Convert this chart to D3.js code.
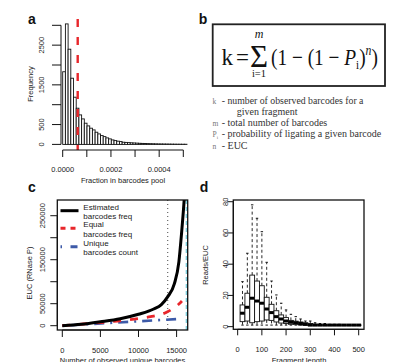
<!DOCTYPE html>
<html>
<head>
<meta charset="utf-8">
<script src="https://cdn.jsdelivr.net/npm/d3@7"></script>
<style>
  body { margin: 0; background: #fff; }
  svg { display: block; }
  text { font-family: "Liberation Sans", Arial, sans-serif; fill: #1a1a1a; }
</style>
</head>
<body>
<svg id="fig" width="419" height="362"></svg>
<script>
// ---- panel a: histogram of barcode fractions
const histBinWidth = 0.0000112
const histCounts = [1830, 3035, 2398, 1667, 1189, 912, 743, 642, 534, 466, 408, 365, 307, 264,
    222, 196, 164, 139, 113, 96, 81, 71, 55, 50, 45, 40, 36, 32, 28, 25, 22, 20, 18, 16, 14,
    12, 11, 10, 9, 8, 7, 6, 5, 5, 4, 4]
const equalFraction = 0.0000622
const histXTicks = [0, 0.0001, 0.0002, 0.0003, 0.0004, 0.0005]
const histXLabels = ["0.0000", "", "0.0002", "", "0.0004", ""]
const histYTicks = [0, 500, 1000, 1500, 2000, 2500, 3000]
const histYLabels = ["0", "500", "", "1500", "", "2500", ""]

// ---- panel c: EUC vs observed unique barcodes
const estObserved = [0, 2500, 5000, 7600, 10000, 12000, 13000, 13800, 14700, 15300, 15650, 15950, 16030]
const estEuc = [0, 3300, 9000, 16000, 26000, 38000, 48000, 65000, 95000, 145000, 210000, 275000, 295000]
const equalObserved = [0, 2780, 5000, 7240, 9475, 11575, 13680, 15450, 15700]
const equalEuc = [0, 3900, 7000, 10700, 15200, 20500, 30500, 51600, 56000]
const uniqueObserved = [0, 15100]
const uniqueEuc = [0, 15100]
const saturationAt = 13830
const poolSize = 16320
const cXTicks = [0, 5000, 10000, 15000]
const cYTicks = [0, 50000, 100000, 150000, 200000, 250000]
const cYLabels = ["0", "50000", "", "150000", "", "250000"]
const cLegend = [["Estimated", "barcodes freq"], ["Equal", "barcodes freq"], ["Unique", "barcodes count"]]

// ---- panel d: reads/EUC by fragment length
const fragLength = [20, 40, 60, 80, 100, 120, 140, 160, 180, 200, 220, 240, 260, 280, 300,
    320, 340, 360, 380, 400, 420, 440, 460, 480, 500]
const whiskerHigh = [28.8, 47, 78, 69.4, 60.8, 41.2, 29.2, 20.3, 15, 10.7, 7.9, 6.4, 4.9, 3.6, 3.6,
    2.5, 2, 2, 1.5, 1.5, 1.5, 1, 1, 1, 1]
const q3 = [13.9, 21.4, 33, 29.2, 26.2, 18.8, 14.3, 10.2, 7.5, 5.8, 4, 3.5, 3, 2.5, 2,
    1.5, 1, 1, 1, 1, 1, 1, 1, 1, 1]
const medians = [8.6, 12.4, 18.2, 16.4, 15, 11.3, 9, 6.4, 4.9, 3.6, 2.8, 2.5, 2, 1.5, 1,
    1, 1, 1, 1, 1, 1, 1, 1, 1, 1]
const q1 = [3.2, 3.6, 2.5, 3.2, 3.6, 4.3, 4, 3, 2.3, 2, 1.5, 1.5, 1, 1, 1,
    1, 1, 1, 1, 1, 1, 1, 1, 1, 1]
const whiskerLow = fragLength.map(() => 1)
const dXTicks = [0, 100, 200, 300, 400, 500]
const dYTicks = [0, 20, 40, 60, 80]

const svg = d3.select("#fig")
svg.append("rect").attr("width", 419).attr("height", 362).attr("fill", "#fff")

const FS = 7.5

function panelLetter(x, y, t) {
    svg.append("text").attr("x", x).attr("y", y).attr("text-anchor", "middle")
        .attr("font-weight", "bold").attr("font-size", 14).style("fill", "#111").text(t)
}

function rotText(x, y, t, size = FS) {
    svg.append("text").attr("transform", `translate(${x},${y}) rotate(-90)`)
        .attr("text-anchor", "middle").attr("dy", "0.35em").attr("font-size", size).text(t)
}

// R style axes: line only from first to last tick
function bottomAxis(scale, y, ticks, labels, tick, labelY) {
    const g = svg.append("g").attr("stroke", "#111").attr("stroke-width", 1)
    g.append("line").attr("x1", scale(ticks[0])).attr("x2", scale(ticks[ticks.length - 1]))
        .attr("y1", y).attr("y2", y)
    ticks.forEach((v, i) => {
        g.append("line").attr("x1", scale(v)).attr("x2", scale(v)).attr("y1", y).attr("y2", y + tick)
        if (labels[i]) svg.append("text").attr("x", scale(v)).attr("y", labelY).attr("dy", "0.35em")
            .attr("text-anchor", "middle").attr("font-size", FS).text(labels[i])
    })
}

function leftAxis(scale, x, ticks, labels, tick, labelX) {
    const g = svg.append("g").attr("stroke", "#111").attr("stroke-width", 1)
    g.append("line").attr("y1", scale(ticks[0])).attr("y2", scale(ticks[ticks.length - 1]))
        .attr("x1", x).attr("x2", x)
    ticks.forEach((v, i) => {
        g.append("line").attr("y1", scale(v)).attr("y2", scale(v)).attr("x1", x).attr("x2", x - tick)
        if (labels[i]) rotText(labelX, scale(v), labels[i])
    })
}

// ================= a =================
const xA = d3.scaleLinear().domain([0, 0.0005]).range([62.7, 183.3])
const yA = d3.scaleLinear().domain([0, 3000]).range([144.4, 25.3])

svg.append("g").selectAll("rect").data(histCounts).join("rect")
    .attr("x", (d, i) => xA(i * histBinWidth))
    .attr("width", xA(histBinWidth) - xA(0))
    .attr("y", (d) => yA(d))
    .attr("height", (d) => yA(0) - yA(d))
    .attr("fill", "#fff").attr("stroke", "#111").attr("stroke-width", 0.9)

svg.append("line").attr("x1", xA(equalFraction)).attr("x2", xA(equalFraction))
    .attr("y1", 19).attr("y2", 150).attr("stroke", "#e8262b").attr("stroke-width", 2.4)
    .attr("stroke-dasharray", "8,10")

bottomAxis(xA, 150, histXTicks, histXLabels, 7, 169)
leftAxis(yA, 61, histYTicks, histYLabels, 9, 41.7)
rotText(30, 84, "Frequency")
svg.append("text").attr("x", 123).attr("y", 180).attr("dy", "0.35em").attr("text-anchor", "middle")
    .attr("font-size", FS).text("Fraction in barcodes pool")
panelLetter(32, 23.5, "a")

// ================= b =================
panelLetter(203, 23.5, "b")
svg.append("rect").attr("x", 212.7).attr("y", 24.3).attr("width", 172.3).attr("height", 61.7)
    .attr("fill", "none").attr("stroke", "#222").attr("stroke-width", 1.8)

const serif = "'Liberation Serif', 'Times New Roman', serif"
function mathText(x, y, size, t, anchor = "start", italic = false) {
    return svg.append("text").attr("x", x).attr("y", y).attr("font-size", size)
        .attr("text-anchor", anchor).style("font-family", serif)
        .style("font-style", italic ? "italic" : "normal").style("fill", "#111").text(t)
}
mathText(221.5, 65, 23, "k")
mathText(236, 65, 23, "=")
mathText(259, 66.5, 31, "\u03a3", "middle")
mathText(259, 38, 12, "m", "middle", true)
mathText(259, 77, 10.5, "i=1", "middle")

const rhs = svg.append("text").attr("y", 65).attr("font-size", 23).style("font-family", serif).style("fill", "#111")
rhs.append("tspan").text("(1 \u2212 (1 \u2212 ")
rhs.append("tspan").style("font-style", "italic").text("P")
rhs.append("tspan").attr("font-size", 13).attr("dy", 4).text("i")
rhs.append("tspan").attr("dy", -4).text(")")
rhs.append("tspan").attr("font-size", 14).attr("dy", -10).style("font-style", "italic").text("n")
rhs.append("tspan").attr("dy", 10).text(")")
const rhsW = rhs.node().getComputedTextLength()
rhs.attr("transform", `translate(271,0) scale(${107 / rhsW},1)`)

const defs = [
    ["k", "- number of observed barcodes for a", 104],
    ["", "given fragment", 114.7],
    ["m", "- total number of barcodes", 126.3],
    ["P", "- probability of ligating a given barcode", 137.3],
    ["n", "- EUC", 148.7],
]
defs.forEach(([sym, txt, y]) => {
    if (sym) {
        const s = svg.append("text").attr("x", 212.5).attr("y", y).attr("font-size", 7.5)
            .style("font-family", serif).style("fill", "#777").text(sym)
        if (sym === "P") s.append("tspan").attr("font-size", 5).attr("dy", 1.5).text("i")
    }
    const t = svg.append("text").attr("x", sym || y > 120 ? 221.7 : 236.7).attr("y", y)
        .attr("font-size", 10).style("font-family", serif).style("fill", "#333").text(txt)
    if (sym === "k") {
        const w = t.node().getComputedTextLength()
        t.attr("font-size", 10 * 142 / w)
    }
})

// ================= c =================
panelLetter(32, 191.5, "c")
const xC = d3.scaleLinear().domain([-656, 16457]).range([57.3, 187.7])
const yC = d3.scaleLinear().domain([-9770, 285700]).range([330, 200])

svg.append("clipPath").attr("id", "clipC").append("rect")
    .attr("x", 57.3).attr("y", 200).attr("width", 130.4).attr("height", 130)
const gc = svg.append("g").attr("clip-path", "url(#clipC)")

const lineC = d3.line().x((d) => xC(d[0])).y((d) => yC(d[1])).curve(d3.curveMonotoneX)

gc.append("line").attr("x1", xC(saturationAt)).attr("x2", xC(saturationAt)).attr("y1", 200).attr("y2", 330)
    .attr("stroke", "#666").attr("stroke-width", 1.2).attr("stroke-dasharray", "1,3")
gc.append("line").attr("x1", xC(poolSize)).attr("x2", xC(poolSize)).attr("y1", 200).attr("y2", 330)
    .attr("stroke", "#7fd0de").attr("stroke-width", 2).attr("stroke-dasharray", "4,3")

gc.append("path").datum(d3.zip(uniqueObserved, uniqueEuc)).attr("d", lineC)
    .attr("fill", "none").attr("stroke", "#3d5aa8").attr("stroke-width", 2.6)
    .attr("stroke-dasharray", "2,6,10,6")
gc.append("path").datum(d3.zip(equalObserved, equalEuc)).attr("d", lineC)
    .attr("fill", "none").attr("stroke", "#e8262b").attr("stroke-width", 2.8)
    .attr("stroke-dasharray", "8,9")
gc.append("path").datum(d3.zip(estObserved, estEuc)).attr("d", lineC)
    .attr("fill", "none").attr("stroke", "#000").attr("stroke-width", 3)

svg.append("rect").attr("x", 57.3).attr("y", 200).attr("width", 130.4).attr("height", 130)
    .attr("fill", "none").attr("stroke", "#111").attr("stroke-width", 1.3)

bottomAxis(xC, 330, cXTicks, cXTicks.map(String), 7, 350)
leftAxis(yC, 57.3, cYTicks, cYLabels, 7, 42.7)
rotText(29.3, 273, "EUC (RNase P)")
svg.append("text").attr("x", 122.5).attr("y", 363.3).attr("text-anchor", "middle")
    .attr("font-size", FS).text("Number of observed unique barcodes")

// legend
const legStyles = [
    { color: "#000", dash: null, y: 210.7 },
    { color: "#e8262b", dash: "5,5", y: 228.3 },
    { color: "#3d5aa8", dash: "1.5,8.5,7,5", y: 246.7 },
]
const legBase = [[209.5, 219.3], [227.2, 237], [245.6, 255.2]]
legStyles.forEach((s, i) => {
    svg.append("line").attr("x1", 60.5).attr("x2", 78.5).attr("y1", s.y).attr("y2", s.y)
        .attr("stroke", s.color).attr("stroke-width", 3).attr("stroke-dasharray", s.dash)
    cLegend[i].forEach((t, j) => svg.append("text").attr("x", 83.3).attr("y", legBase[i][j])
        .attr("font-size", 8).text(t))
})

// ================= d =================
panelLetter(204, 191.5, "d")
const xD = d3.scaleLinear().domain([-18, 522]).range([233.3, 364])
const yD = d3.scaleLinear().domain([-1.7, 81.1]).range([329.3, 200])
const boxW = xD(20) - xD(0)
const stapleW = boxW * 0.5

const boxes = fragLength.map((x, i) => ({ x, lo: whiskerLow[i], q1: q1[i], med: medians[i], q3: q3[i], hi: whiskerHigh[i] }))
const gd = svg.append("g")
const bx = gd.selectAll("g").data(boxes).join("g")
bx.append("line").attr("x1", (d) => xD(d.x)).attr("x2", (d) => xD(d.x))
    .attr("y1", (d) => yD(d.q3)).attr("y2", (d) => yD(d.hi))
    .attr("stroke", "#111").attr("stroke-width", 0.9).attr("stroke-dasharray", "3,2.5")
bx.append("line").attr("x1", (d) => xD(d.x)).attr("x2", (d) => xD(d.x))
    .attr("y1", (d) => yD(d.q1)).attr("y2", (d) => yD(d.lo))
    .attr("stroke", "#111").attr("stroke-width", 0.9).attr("stroke-dasharray", "3,2.5")
bx.append("line").attr("x1", (d) => xD(d.x) - stapleW / 2).attr("x2", (d) => xD(d.x) + stapleW / 2)
    .attr("y1", (d) => yD(d.hi)).attr("y2", (d) => yD(d.hi)).attr("stroke", "#111").attr("stroke-width", 1)
bx.append("line").attr("x1", (d) => xD(d.x) - stapleW / 2).attr("x2", (d) => xD(d.x) + stapleW / 2)
    .attr("y1", (d) => yD(d.lo)).attr("y2", (d) => yD(d.lo)).attr("stroke", "#111").attr("stroke-width", 1)
bx.append("rect").attr("x", (d) => xD(d.x) - boxW / 2).attr("width", boxW)
    .attr("y", (d) => yD(d.q3)).attr("height", (d) => Math.max(0.1, yD(d.q1) - yD(d.q3)))
    .attr("fill", "#fff").attr("stroke", "#111").attr("stroke-width", 0.9)
bx.append("line").attr("x1", (d) => xD(d.x) - boxW / 2).attr("x2", (d) => xD(d.x) + boxW / 2)
    .attr("y1", (d) => yD(d.med)).attr("y2", (d) => yD(d.med)).attr("stroke", "#000").attr("stroke-width", 3)

svg.append("rect").attr("x", 233.3).attr("y", 200).attr("width", 130.7).attr("height", 129.3)
    .attr("fill", "none").attr("stroke", "#111").attr("stroke-width", 1.3)

bottomAxis(xD, 329.3, dXTicks, dXTicks.map(String), 6, 349.3)
leftAxis(yD, 233.3, dYTicks, dYTicks.map(String), 6, 225)
rotText(205, 265, "Reads/EUC")
svg.append("text").attr("x", 299).attr("y", 363.3).attr("text-anchor", "middle")
    .attr("font-size", FS).text("Fragment length")
</script>
</body>
</html>
